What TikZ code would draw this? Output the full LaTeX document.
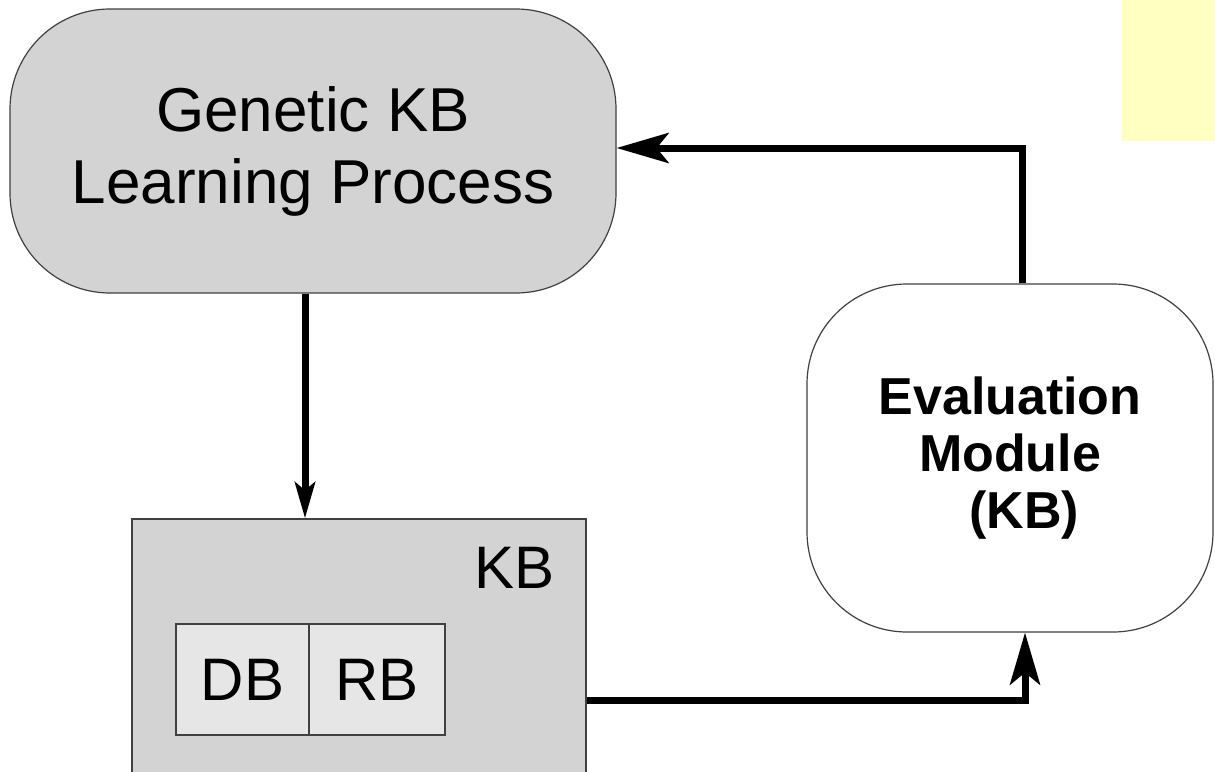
\documentclass[tikz,border=0pt]{standalone}
\usepackage{fontspec}
\setmainfont{Liberation Sans}
\usetikzlibrary{arrows.meta,calc}
\definecolor{boxgray}{HTML}{D3D3D3}
\definecolor{cellgray}{HTML}{E6E6E6}
\definecolor{note}{HTML}{FFFFC2}
\definecolor{edge}{HTML}{404040}
\tikzset{
  procbox/.style={draw=edge,line width=0.6pt,fill=boxgray,rounded corners=50pt,align=center,
    font=\fontsize{31pt}{36pt}\selectfont},
  evalbox/.style={draw=edge,line width=0.6pt,fill=white,rounded corners=50pt,align=center,
    font=\fontsize{26pt}{28.5pt}\selectfont\bfseries},
  kbbox/.style={draw=edge,line width=0.6pt,fill=boxgray},
  cell/.style={draw=edge,line width=0.6pt,fill=cellgray,font=\fontsize{30pt}{36pt}\selectfont,inner sep=0pt},
  arr/.style={line width=3.5pt,-{Stealth[length=26pt,width=15pt,inset=6pt]}},
  arrs/.style={line width=3.5pt,-{Stealth[length=18pt,width=10pt,inset=4pt]}}
}
\begin{document}
\begin{tikzpicture}[x=0.5pt,y=-0.5pt]
\clip (0,0) rectangle (1215,771);
\fill[white] (0,0) rectangle (1215,771);
\fill[note] (1122,0) rectangle (1215,141);
\node[procbox,minimum width=303pt,minimum height=142pt] (gen) at (313,151)
  {Genetic KB\\Learning Process};
\node[kbbox,minimum width=227pt,minimum height=160pt] (kb) at (359,679) {};
\node[anchor=base east,inner sep=0pt,font=\fontsize{30pt}{36pt}\selectfont] (kbl) at (555,588) {KB};
\node[cell,minimum width=66.5pt,minimum height=55.5pt] (db) at (242.5,679.5) {DB};
\node[cell,minimum width=68pt,minimum height=55.5pt] (rb) at (377,679.5) {RB};
\node[evalbox,minimum width=203pt,minimum height=174pt] (eval) at (1010,458)
  {Evaluation\\Module\\\ \ (KB)};
\coordinate (ya) at (0,148);
\coordinate (yb) at (0,700);
\draw[arrs] ([xshift=-4pt]gen.south) -- ([xshift=-4pt]gen.south |- kb.north);
\draw[arr] (kb.east |- yb) -| ([xshift=7.5pt]eval.south);
\draw[arr] ([xshift=6pt]eval.north) |- (gen.east |- ya);
\end{tikzpicture}
\end{document}
